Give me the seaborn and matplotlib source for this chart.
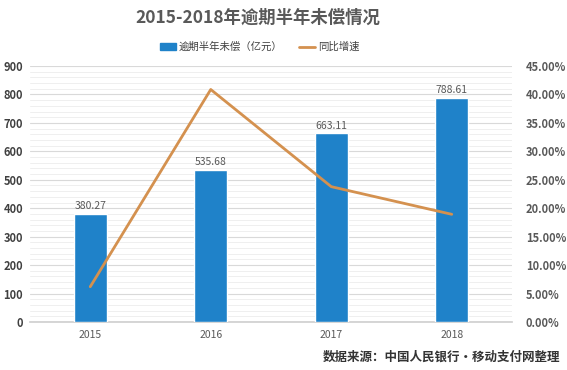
import numpy as np
import pandas as pd
import matplotlib
matplotlib.use("Agg")
import matplotlib.pyplot as plt
import seaborn as sns
from matplotlib.ticker import MultipleLocator, FuncFormatter
from matplotlib.patches import Patch
from matplotlib.lines import Line2D

years = ["2015", "2016", "2017", "2018"]
overdue = [380.27, 535.68, 663.11, 788.61]      # 逾期半年未偿 (亿元)
growth = [6.2, 40.87, 23.79, 18.93]            # 同比增速 (%)

bar_color = "#1f82c9"
line_color = "#d4914f"

sns.set_theme(style="white")
plt.rcParams['font.family'] = ['Noto Sans CJK SC', 'DejaVu Sans']

df = pd.DataFrame({"year": years, "overdue": overdue, "growth": growth})

fig = plt.figure(figsize=(5.67, 3.70), dpi=100)
ax = fig.add_axes([30 / 567, 48 / 370, 482 / 567, 256 / 370])

sns.barplot(data=df, x="year", y="overdue", color=bar_color, width=0.27,
            saturation=1, ax=ax, zorder=3)
ax.set_ylim(0, 900)
ax.yaxis.set_major_locator(MultipleLocator(100))
ax.yaxis.set_minor_locator(MultipleLocator(20))
ax.grid(axis="y", which="major", color="#d9d9d9", lw=0.8, zorder=0)
ax.grid(axis="y", which="minor", color="#ececec", lw=0.6, zorder=0)
ax.set_axisbelow(True)
ax.set_xlim(-0.5, 3.5)
ax.set_xlabel("")
ax.set_ylabel("")
for s in ["top", "right", "left"]:
    ax.spines[s].set_visible(False)
ax.spines["bottom"].set_color("#d0d0d0")
ax.tick_params(axis="y", which="both", length=0, labelsize=8, labelcolor="#404040", pad=5)
ax.tick_params(axis="x", length=0, labelsize=7.5, labelcolor="#595959", pad=6)
for t in ax.get_yticklabels():
    t.set_fontweight("bold")

for i, v in enumerate(overdue):
    ax.text(i, v + 10, f"{v:.2f}", ha="center", va="bottom", fontsize=7.5, color="#595959")

ax2 = ax.twinx()
sns.lineplot(x=np.arange(len(years)), y=growth, color=line_color, lw=2, ax=ax2)
ax2.set_ylim(0, 45)
ax2.yaxis.set_major_locator(MultipleLocator(5))
ax2.yaxis.set_major_formatter(FuncFormatter(lambda v, p: f"{v:.2f}%"))
for s in ["top", "right", "left", "bottom"]:
    ax2.spines[s].set_visible(False)
ax2.tick_params(axis="y", length=0, labelsize=8, labelcolor="#595959", pad=10)
for t in ax2.get_yticklabels():
    t.set_fontweight("bold")

fig.text(0.455, 0.953, "2015-2018年逾期半年未偿情况", ha="center", va="center",
         fontsize=12.5, fontweight="heavy", color="#595959")

handles = [Patch(color=bar_color), Line2D([0], [0], color=line_color, lw=2)]
fig.legend(handles, ["逾期半年未偿（亿元）", "同比增速"], loc="center",
           bbox_to_anchor=(0.458, 0.873), ncol=2, frameon=False, fontsize=7.5,
           handlelength=1.5, handleheight=0.6, columnspacing=1.6, handletextpad=0.3,
           labelcolor="#404040")

fig.text(0.988, 0.035, "数据来源：中国人民银行•移动支付网整理", ha="right", va="center",
         fontsize=9, fontweight="bold", color="#333333")

fig.savefig("out.png", dpi=100)
